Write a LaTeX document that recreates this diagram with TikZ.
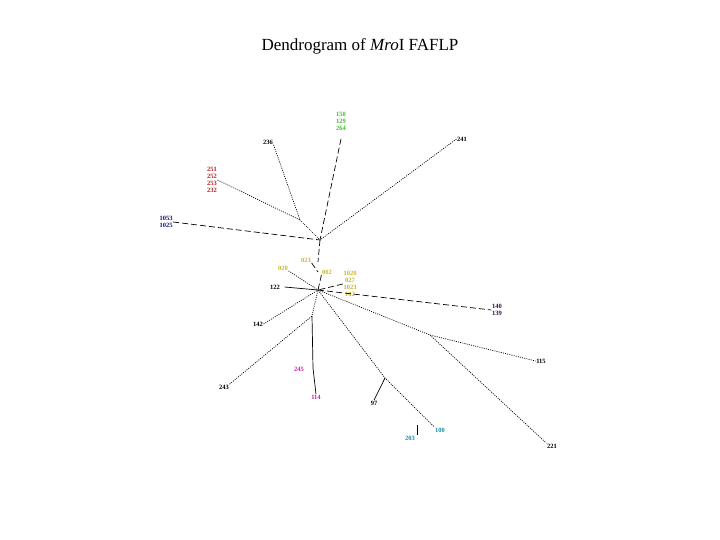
\documentclass[tikz,border=0pt]{standalone}
\usepackage{fontspec}
\setmainfont{Liberation Serif}
\definecolor{gr}{RGB}{60,190,40}
\definecolor{rd}{RGB}{180,30,30}
\definecolor{bl}{RGB}{20,20,120}
\definecolor{yl}{RGB}{200,180,40}
\definecolor{pk}{RGB}{200,30,160}
\definecolor{tl}{RGB}{20,140,160}
\definecolor{pu}{RGB}{60,10,70}
\begin{document}
\begin{tikzpicture}[x=1pt,y=-1pt,
  lab/.style={font=\fontsize{6.5}{7}\selectfont\bfseries, inner sep=0.5pt, align=center},
  br/.style={line width=0.7pt, dash pattern=on 1pt off 1.2pt},
  dbr/.style={line width=0.7pt, dash pattern=on 6pt off 3pt}]
\useasboundingbox (0,0) rectangle (720,540);
\node[font=\fontsize{17}{20}\selectfont] (t) at (360,46) {Dendrogram of \textit{Mro}I FAFLP};
\coordinate (A) at (320,240);
\coordinate (B) at (318,290);
\coordinate (J1) at (300,220);
\coordinate (J2) at (312,316);
\coordinate (J3) at (430,335);
\coordinate (J4) at (385,378);
\coordinate (J5) at (313,368);
\node[lab,text=gr] (g) at (341,121) {150\\129\\264};
\node[lab] (n236) at (268,142) {236};
\node[lab] (n241) at (462,139) {241};
\node[lab,text=rd] (r) at (212,180) {251\\252\\253\\232};
\node[lab,text=bl] (b) at (166,222) {1053\\1025};
\node[lab,text=yl] (y23) at (306,260) {023};
\node[lab,text=yl] (y20) at (283,268) {020};
\node[lab,text=yl] (y02) at (327,272) {002};
\node[lab,text=yl] (yc) at (350,284) {1020\\027\\1023\\102};
\node[lab] (n122) at (275,287) {122};
\node[lab] (n142) at (258,324) {142};
\node[lab] (n243) at (224,387) {243};
\node[lab,text=pk] (n245) at (299,369) {245};
\node[lab,text=pk] (n114) at (316,397) {114};
\node[lab,text=pu] (p) at (497,310) {140\\139};
\node[lab] (n115) at (541,361) {115};
\node[lab] (n221) at (552,446) {221};
\node[lab] (n97) at (374,403) {97};
\node[lab,text=tl] (n100) at (440,430) {100};
\node[lab,text=tl] (n203) at (410,438) {203};
\draw[br] (n236.south east) -- (J1) -- (A);
\draw[br] (r.east) -- (J1);
\draw[dbr] (g.south) ++(0,8) -- (A);
\draw[br] (n241.west) -- (A);
\draw[dbr] (b.east) -- (A);
\draw[dbr] (A) -- (318,262);
\draw[dbr] (y23.south east) -- (318,272);
\draw[br] (y20.south east) -- (B);
\draw[dbr] (y02.south west) -- (B);
\draw[dbr] (yc.west) -- (B);
\draw[line width=0.7pt] (n122.east) ++(4,0) -- (B);
\draw[br] (n142.east) -- (B);
\draw[br] (n243.north east) -- (J2) -- (B);
\draw[line width=0.7pt] (J2) -- (J5) -- (n114.north);
\draw[dbr] (B) -- (p.west);
\draw[br] (B) -- (J3) -- (n115.west);
\draw[br] (J3) -- (n221.north west);
\draw[br] (B) -- (J4) -- (n100.north west);
\draw[line width=0.7pt] (J4) -- (n97.north);
\draw[line width=0.7pt] (n203.north) ++(7,-10) -- ++(0,10);
\end{tikzpicture}
\end{document}
